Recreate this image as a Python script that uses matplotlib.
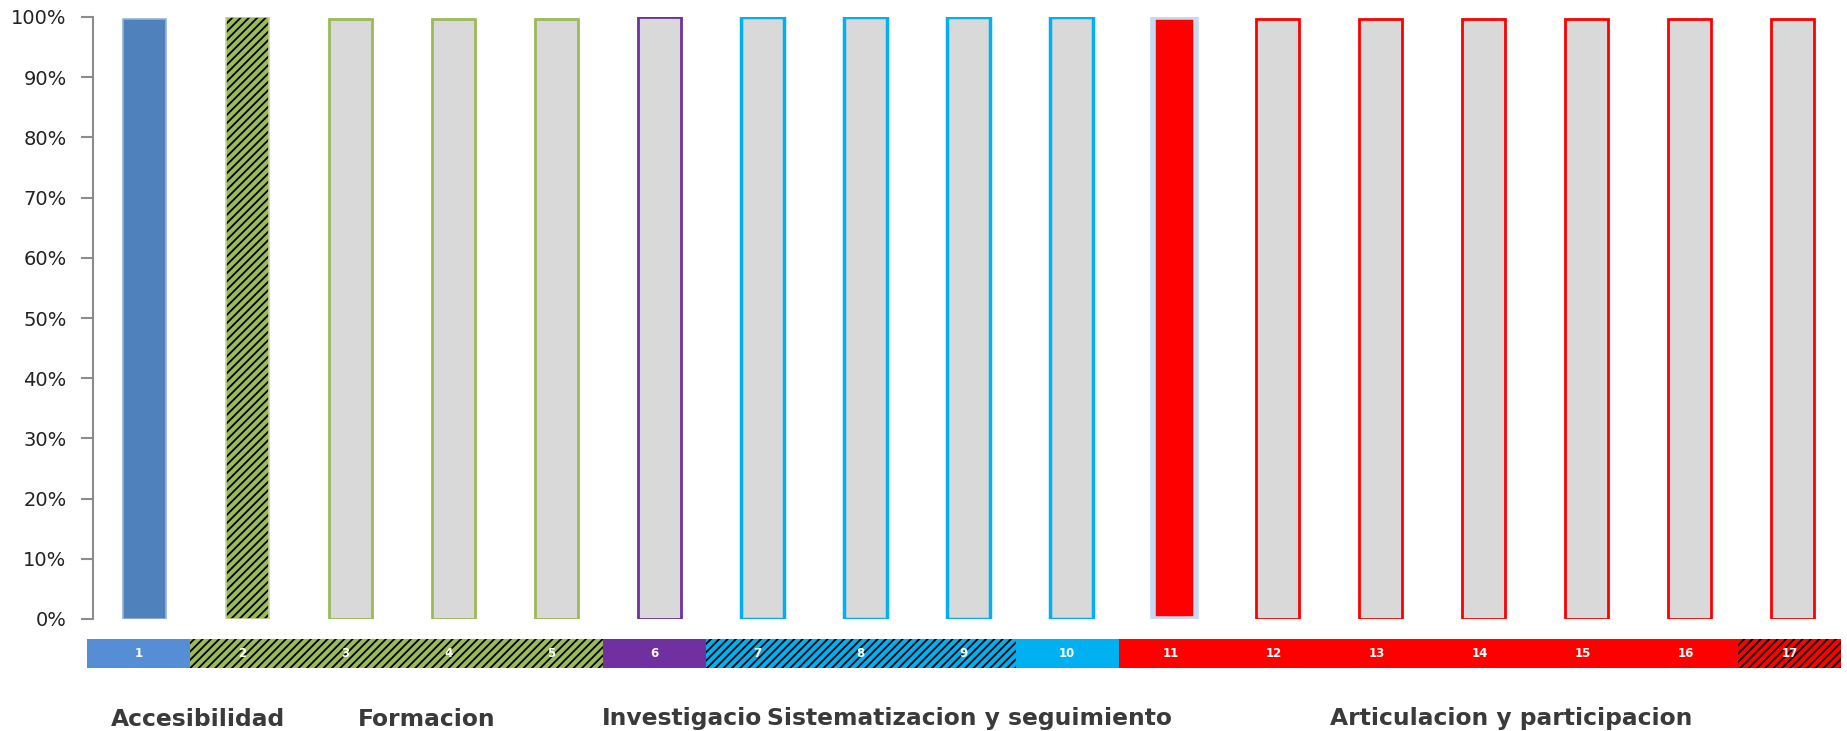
import matplotlib
matplotlib.use("Agg")
import matplotlib.pyplot as plt
from matplotlib.transforms import Bbox, TransformedBbox

plt.rcParams['font.family'] = ['DejaVu Sans']
plt.rcParams['hatch.linewidth'] = 1.3

# ---- data ----
categories = [str(i) for i in range(1, 18)]
values = [0.996, 1.0, 0.996, 0.996, 0.996, 1.0, 1.0, 1.0, 1.0, 1.0,
          1.0, 0.996, 0.996, 0.996, 0.996, 0.996, 0.996]
bar_fill = ['#4F81BD', '#9BBB59', '#D9D9D9', '#D9D9D9', '#D9D9D9', '#D9D9D9',
            '#D9D9D9', '#D9D9D9', '#D9D9D9', '#D9D9D9', '#FF0000',
            '#D9D9D9', '#D9D9D9', '#D9D9D9', '#D9D9D9', '#D9D9D9', '#D9D9D9']
bar_edge = ['#95B3D7', '#C3D69B', '#9BBB59', '#9BBB59', '#9BBB59', '#7030A0',
            '#00B0F0', '#00B0F0', '#00B0F0', '#00B0F0', '#C6D9F1',
            '#FF0000', '#FF0000', '#FF0000', '#FF0000', '#FF0000', '#FF0000']
bar_hatch = ['', '////', '', '', '', '', '', '', '', '', '', '', '', '', '', '', '']
strip_color = ['#558ED5', '#9BBB59', '#9BBB59', '#9BBB59', '#9BBB59', '#7030A0',
               '#00B0F0', '#00B0F0', '#00B0F0', '#00B0F0',
               '#FF0000', '#FF0000', '#FF0000', '#FF0000', '#FF0000', '#FF0000', '#FF0000']
strip_hatch = ['', '////', '////', '////', '////', '', '////', '////', '////', '',
               '', '', '', '', '', '', '////']
groups = ['Accesibilidad', 'Formacion', 'Investigacion',
          'Sistematizacion y seguimiento', 'Articulacion y participacion']
yticks = [0, 0.1, 0.2, 0.3, 0.4, 0.5, 0.6, 0.7, 0.8, 0.9, 1.0]
ytick_labels = ['0%', '10%', '20%', '30%', '40%', '50%', '60%', '70%', '80%', '90%', '100%']

W, H = 1847, 731
fig = plt.figure(figsize=(W / 100, H / 100), dpi=100)

# ---- main bar axes ----
ax = fig.add_axes([93 / W, 1 - 619 / H, (1844 - 93) / W, (619 - 17) / H])
x = list(range(1, 18))
lw = [1.2, 1.2, 2.0, 2.0, 2.0, 2.0, 2.5, 2.5, 2.5, 2.5, 4.0,
      2.0, 2.0, 2.0, 2.0, 2.0, 2.0]
for xi, v, fc, ec, h, w in zip(x, values, bar_fill, bar_edge, bar_hatch, lw):
    ax.bar(xi, v, width=0.41, color=fc, linewidth=0, zorder=2)
    if h:
        ax.bar(xi, v, width=0.41, facecolor='none', edgecolor='black',
               linewidth=0, hatch=h, zorder=3)
    ax.bar(xi, v, width=0.41, facecolor='none', edgecolor=ec, linewidth=w, zorder=4)
ax.set_xlim(0.5, 17.5)
ax.set_ylim(0, 1.0)
ax.set_yticks(yticks)
ax.set_yticklabels(ytick_labels, fontsize=14, color='#222222')
ax.set_xticks([])
for s in ['top', 'right', 'bottom']:
    ax.spines[s].set_visible(False)
ax.spines['left'].set_color('#8C8C8C')
ax.spines['left'].set_linewidth(1.5)
ax.tick_params(axis='y', length=9, width=1.5, color='#8C8C8C', pad=10)

# ---- category strip ----
sax = fig.add_axes([87 / W, 1 - 668 / H, (1841 - 87) / W, (668 - 639) / H])
for xi, c, h, lab in zip(x, strip_color, strip_hatch, categories):
    sax.bar(xi, 1, width=1.0, color=c, linewidth=0)
    if h:
        sax.bar(xi, 1, width=1.0, facecolor='none', edgecolor='black',
                linewidth=0, hatch=h)
    sax.text(xi, 0.5, lab, ha='center', va='center', color='white',
             fontsize=8.5, fontweight='bold', zorder=5)
sax.set_xlim(0.5, 17.5)
sax.set_ylim(0, 1)
sax.axis('off')

# ---- group labels ----
gy = 1 - 719 / H
gx = [198, 427, 690, 969, 1511]
for name, px in zip(groups, gx):
    t = fig.text(px / W, gy, name, ha='center', va='center', fontsize=16.8,
                 fontweight='semibold', color='#3A3A3A')
    if name == 'Investigacion':
        t.set_clip_on(True)
        t.set_clip_box(TransformedBbox(Bbox([[0, 0], [762 / W, 1]]), fig.transFigure))

fig.savefig('out.png', dpi=100)
